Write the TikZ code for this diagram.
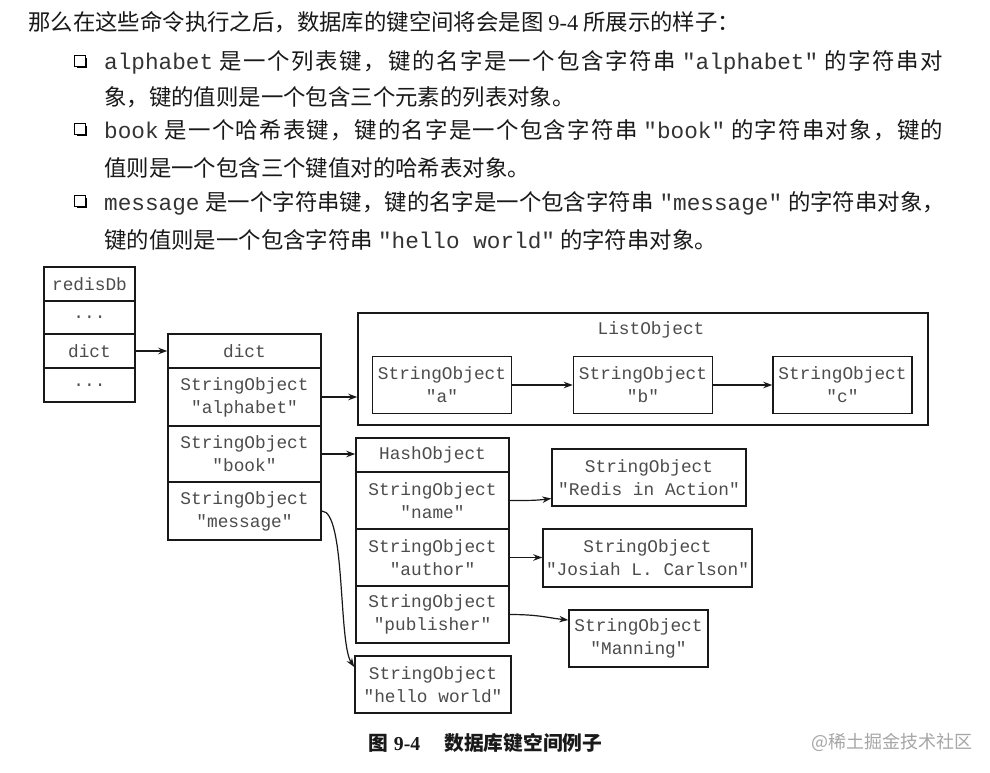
\documentclass[tikz,border=0pt]{standalone}
\usepackage{fontspec}
\setmainfont{Noto Sans CJK SC}
\setmonofont{Liberation Mono}
\newfontfamily\serifnum{Liberation Serif}
\usetikzlibrary{arrows.meta,shadows}
\def\sprEnd{sprEndMarker}
\def\spr#1{\sprA#1\sprEnd}
\def\sprA#1{#1\sprB}
\def\sprB#1{\ifx#1\sprEnd\else\hskip0pt plus 1fil\relax#1\expandafter\sprB\fi}
\newcommand\diagfont{\ttfamily\fontsize{17.8pt}{23pt}\selectfont}
\newcommand\bodycjk{\fontsize{22.4pt}{26pt}\selectfont}
\newcommand\bodytt{\ttfamily\fontsize{22.7pt}{26pt}\selectfont}
\tikzset{
  cell/.style={draw=black!90, line width=1.5pt, inner sep=0pt, font=\diagfont, text=black!70, align=center},
  arr/.style={-{Stealth[length=9pt,width=6.5pt]}, line width=1.2pt, draw=black!90},
  txt/.style={anchor=base west, inner sep=0pt, font=\bodycjk, text=black!90},
  bulletbox/.style={draw=black, line width=1.4pt, minimum size=10.5pt, inner sep=0pt, fill=white,
    drop shadow={shadow xshift=2pt, shadow yshift=-2pt, opacity=1, fill=black}},
}
\begin{document}
\begin{tikzpicture}[x=1pt,y=-1pt]
\fill[white] (0,0) rectangle (990,773);
\useasboundingbox (0,0) rectangle (990,773);

% ---- text block ----
\node[txt] (t1) at (28,30.5) {那么在这些命令执行之后，数据库的键空间将会是图 {\serifnum 9-4} 所展示的样子：};
\node[bulletbox] (b1) at (80,61) {};
\node[txt, text=black!80] (t2) at (104,70) {\makebox[839pt][s]{{\bodytt alphabet}\hspace{6pt}{\color{black!90}\spr{是一个列表键，键的名字是一个包含字符串}}\hspace{6pt}{\bodytt "alphabet"}\hspace{6pt}{\color{black!90}\spr{的字符串对}}}};
\node[txt] (t3) at (104,105.5) {象，键的值则是一个包含三个元素的列表对象。};
\node[bulletbox] (b2) at (80,129) {};
\node[txt, text=black!80] (t4) at (104,138.5) {\makebox[839pt][s]{{\bodytt book}\hspace{6pt}{\color{black!90}\spr{是一个哈希表键，键的名字是一个包含字符串}}\hspace{6pt}{\bodytt "book"}\hspace{6pt}{\color{black!90}\spr{的字符串对象，键的}}}};
\node[txt] (t5) at (104,176.5) {值则是一个包含三个键值对的哈希表对象。};
\node[bulletbox] (b3) at (80,201) {};
\node[txt, text=black!80] (t6) at (104,210.5) {\makebox[839pt][s]{{\bodytt message}\hspace{6pt}{\color{black!90}\spr{是一个字符串键，键的名字是一个包含字符串}}\hspace{6pt}{\bodytt "message"}\hspace{6pt}{\color{black!90}\spr{的字符串对象，}}}};
\node[txt] (t7) at (104,248.5) {键的值则是一个包含字符串 {\bodytt\color{black!80}"hello world"} 的字符串对象。};

% ---- redisDb ----
\node[cell, minimum width=91pt, minimum height=34pt] (rdb0) at (89.5,284) {redisDb};
\node[cell, minimum width=91pt, minimum height=33pt] (rdb1) at (89.5,317.5) {...};
\node[cell, minimum width=91pt, minimum height=34pt] (rdb2) at (89.5,351) {dict};
\node[cell, minimum width=91pt, minimum height=34pt] (rdb3) at (89.5,385) {...};

% ---- dict ----
\node[cell, minimum width=153pt, minimum height=34pt] (dhead) at (244.5,351) {dict};
\node[cell, minimum width=153pt, minimum height=58pt] (dalpha) at (244.5,397) {StringObject\\"alphabet"};
\node[cell, minimum width=153pt, minimum height=56pt] (dbook) at (244.5,454) {StringObject\\"book"};
\node[cell, minimum width=153pt, minimum height=58pt] (dmsg) at (244.5,511) {StringObject\\"message"};

% ---- ListObject ----
\node[cell, minimum width=570pt, minimum height=112pt] (lobj) at (643,369) {};
\node[inner sep=0pt, font=\diagfont, text=black!70] (lobjlabel) at (651,330) {ListObject};
\node[cell, minimum width=139pt, minimum height=57pt] (la) at (442,385) {StringObject\\"a"};
\node[cell, minimum width=139pt, minimum height=57pt] (lb) at (643,385) {StringObject\\"b"};
\node[cell, minimum width=139pt, minimum height=57pt] (lc) at (842.5,385) {StringObject\\"c"};

% ---- HashObject ----
\node[cell, minimum width=153pt, minimum height=34pt] (hhead) at (432.5,455) {HashObject};
\node[cell, minimum width=153pt, minimum height=57pt] (hname) at (432.5,500.5) {StringObject\\"name"};
\node[cell, minimum width=153pt, minimum height=57pt] (hauthor) at (432.5,557.5) {StringObject\\"author"};
\node[cell, minimum width=153pt, minimum height=57pt] (hpub) at (432.5,614.5) {StringObject\\"publisher"};

% ---- values ----
\node[cell, minimum width=194pt, minimum height=57pt] (redis) at (649,477.5) {StringObject\\"Redis in Action"};
\node[cell, minimum width=209pt, minimum height=58pt] (josiah) at (647.5,558) {StringObject\\"Josiah L. Carlson"};
\node[cell, minimum width=139pt, minimum height=57pt] (manning) at (638.5,638.5) {StringObject\\"Manning"};
\node[cell, minimum width=156pt, minimum height=57pt] (hello) at (433,684.5) {StringObject\\"hello world"};

% ---- connectors ----
\draw[arr] (rdb2.east) -- (dhead.west);
\draw[arr] (dalpha.east) -- (dalpha.east -| lobj.west);
\draw[arr] (dbook.east) -- (dbook.east -| hhead.west);
\draw[arr] (la.east) -- (lb.west);
\draw[arr] (lb.east) -- (lc.west);
\draw[arr] (hname.east) .. controls +(20,0) and +(-15,2) .. ([yshift=-21pt]redis.west);
\draw[arr] (hauthor.east) -- (hauthor.east -| josiah.west);
\draw[arr] (hpub.east) .. controls +(30,0) and +(-20,-2) .. ([yshift=18.5pt]manning.west);
\draw[arr] (dmsg.east) .. controls +(24,0) and +(-16,-24) .. ([yshift=17.5pt]hello.west);

% ---- caption ----
\node[anchor=west, inner sep=0pt, font=\fontsize{19.75pt}{22pt}\selectfont\bfseries, text=black!90] (cap) at (368,743) {图\hspace{6pt}{\serifnum\bfseries 9-4}\hspace{24pt}数据库键空间例子};
\node[anchor=west, inner sep=0pt, font=\fontsize{18pt}{22pt}\selectfont, text=black!35] (wm) at (811,742) {@稀土掘金技术社区};
\end{tikzpicture}
\end{document}
